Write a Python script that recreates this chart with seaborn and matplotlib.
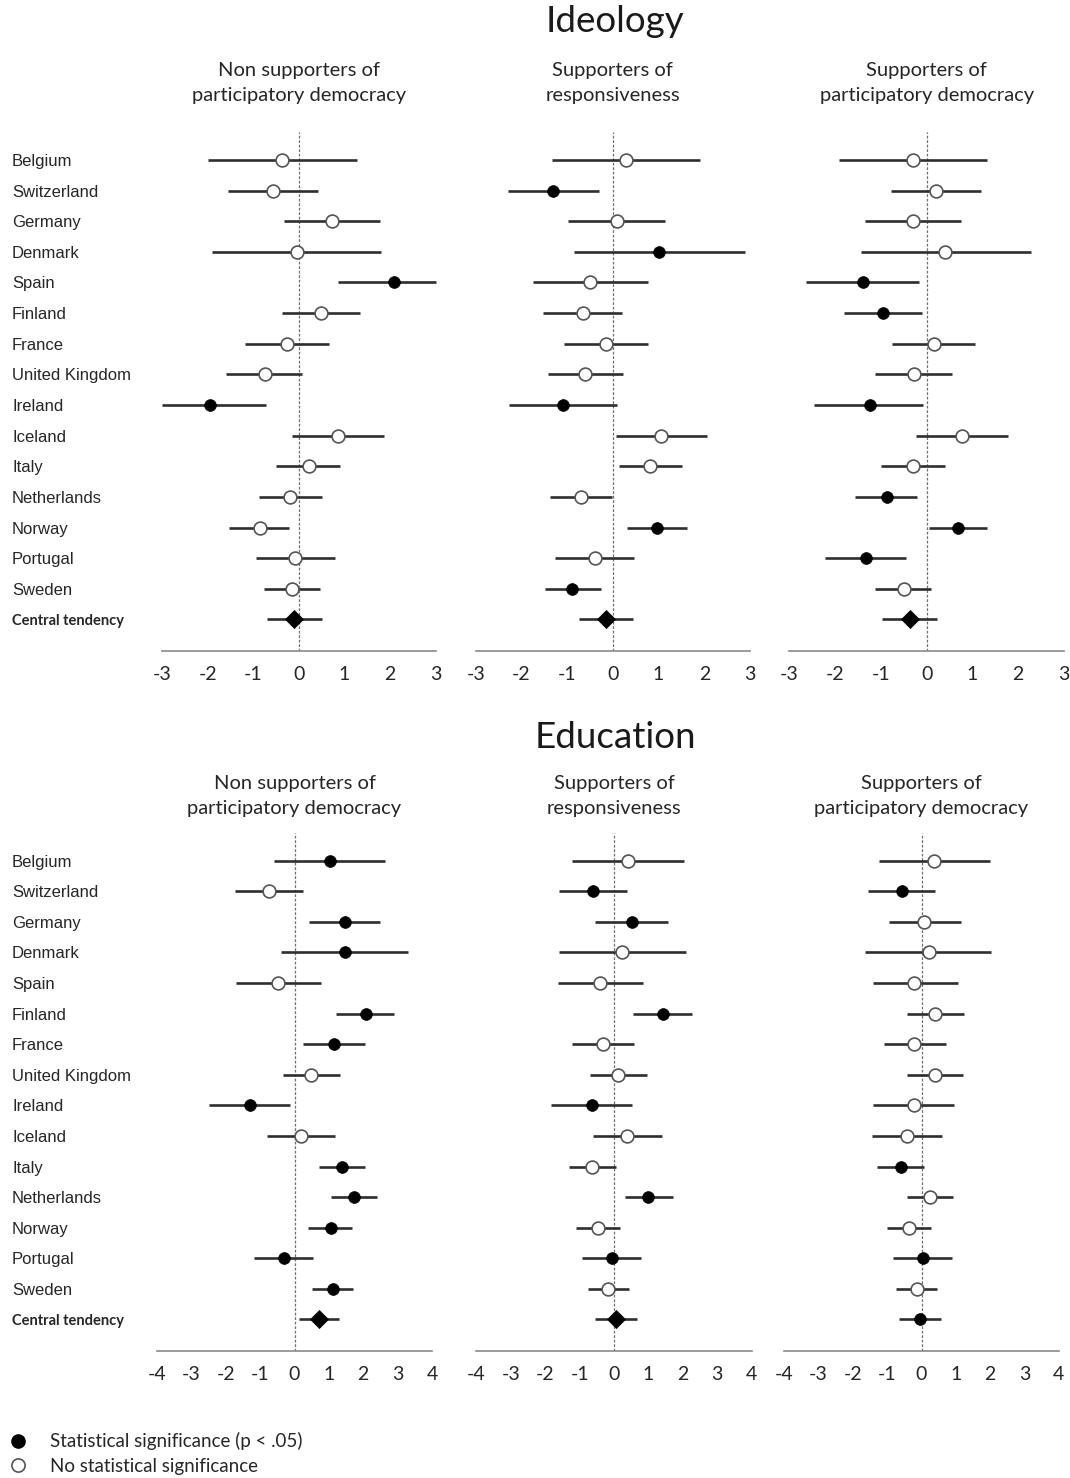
import numpy as np
import pandas as pd
import matplotlib
matplotlib.use("Agg")
import matplotlib.pyplot as plt
import seaborn as sns
from matplotlib.lines import Line2D

# ---------------------------------------------------------------- data
countries = ["Belgium", "Switzerland", "Germany", "Denmark", "Spain", "Finland",
             "France", "United Kingdom", "Ireland", "Iceland", "Italy",
             "Netherlands", "Norway", "Portugal", "Sweden"]
central_label = "Central tendency"

panel_titles = ["Non supporters of\nparticipatory democracy",
                "Supporters of\nresponsiveness",
                "Supporters of\nparticipatory democracy"]

# Ideology: estimate, lower bound, upper bound (15 countries + central tendency)
ideo_non_est = [-0.37, -0.57, 0.74, -0.04, 2.09, 0.48, -0.26, -0.75, -1.94, 0.87, 0.22, -0.19, -0.86, -0.08, -0.15, -0.10]
ideo_non_lo = [-1.99, -1.55, -0.32, -1.90, 0.86, -0.37, -1.17, -1.59, -3.00, -0.15, -0.49, -0.88, -1.52, -0.94, -0.77, -0.69]
ideo_non_hi = [1.27, 0.42, 1.78, 1.81, 3.00, 1.34, 0.66, 0.07, -0.72, 1.87, 0.90, 0.52, -0.21, 0.79, 0.47, 0.52]
ideo_non_sig = [0, 0, 0, 0, 1, 0, 0, 0, 1, 0, 0, 0, 0, 0, 0]

ideo_resp_est = [0.28, -1.32, 0.08, 1.01, -0.50, -0.66, -0.15, -0.61, -1.10, 1.06, 0.82, -0.69, 0.96, -0.39, -0.89, -0.16]
ideo_resp_lo = [-1.34, -2.30, -0.98, -0.85, -1.75, -1.52, -1.06, -1.42, -2.27, 0.06, 0.13, -1.38, 0.32, -1.27, -1.48, -0.75]
ideo_resp_hi = [1.90, -0.31, 1.14, 2.88, 0.76, 0.20, 0.76, 0.22, 0.10, 2.05, 1.52, -0.01, 1.63, 0.47, -0.26, 0.43]
ideo_resp_sig = [0, 1, 0, 1, 0, 0, 0, 0, 1, 0, 0, 0, 1, 0, 1]

ideo_part_est = [-0.29, 0.20, -0.29, 0.41, -1.40, -0.95, 0.15, -0.28, -1.24, 0.77, -0.30, -0.87, 0.69, -1.33, -0.50, -0.37]
ideo_part_lo = [-1.91, -0.78, -1.35, -1.43, -2.64, -1.80, -0.76, -1.12, -2.45, -0.23, -1.00, -1.57, 0.05, -2.21, -1.13, -0.97]
ideo_part_hi = [1.32, 1.19, 0.76, 2.27, -0.16, -0.10, 1.06, 0.55, -0.07, 1.77, 0.40, -0.20, 1.32, -0.46, 0.09, 0.23]
ideo_part_sig = [0, 0, 0, 0, 1, 1, 0, 0, 1, 0, 0, 1, 1, 1, 0]

# Education
edu_non_est = [1.02, -0.74, 1.46, 1.46, -0.47, 2.08, 1.16, 0.49, -1.29, 0.18, 1.38, 1.74, 1.05, -0.32, 1.11, 0.71]
edu_non_lo = [-0.60, -1.74, 0.42, -0.40, -1.71, 1.20, 0.24, -0.34, -2.49, -0.79, 0.70, 1.06, 0.39, -1.19, 0.51, 0.12]
edu_non_hi = [2.63, 0.25, 2.50, 3.30, 0.77, 2.89, 2.05, 1.32, -0.14, 1.19, 2.04, 2.40, 1.68, 0.53, 1.71, 1.28]
edu_non_sig = [1, 0, 1, 1, 0, 1, 1, 0, 1, 0, 1, 1, 1, 1, 1]

edu_resp_est = [0.41, -0.61, 0.51, 0.23, -0.42, 1.41, -0.31, 0.13, -0.64, 0.39, -0.64, 1.00, -0.47, -0.06, -0.16, 0.06]
edu_resp_lo = [-1.21, -1.59, -0.54, -1.59, -1.63, 0.56, -1.23, -0.69, -1.84, -0.61, -1.32, 0.31, -1.10, -0.92, -0.76, -0.54]
edu_resp_hi = [2.03, 0.39, 1.56, 2.08, 0.84, 2.28, 0.57, 0.97, 0.53, 1.39, 0.05, 1.70, 0.17, 0.78, 0.45, 0.66]
edu_resp_sig = [0, 1, 1, 0, 0, 1, 0, 0, 1, 0, 0, 1, 0, 1, 0]

edu_part_est = [0.36, -0.57, 0.07, 0.21, -0.21, 0.40, -0.21, 0.38, -0.23, -0.42, -0.60, 0.26, -0.35, 0.05, -0.13, -0.03]
edu_part_lo = [-1.24, -1.57, -0.96, -1.64, -1.42, -0.43, -1.09, -0.43, -1.41, -1.43, -1.31, -0.43, -1.01, -0.82, -0.73, -0.65]
edu_part_hi = [1.99, 0.38, 1.14, 2.04, 1.05, 1.25, 0.71, 1.20, 0.95, 0.59, 0.08, 0.92, 0.29, 0.89, 0.46, 0.56]
edu_part_sig = [0, 1, 0, 0, 0, 0, 0, 0, 0, 0, 1, 0, 0, 1, 0]

central_markers = ["D", "D", "D", "D", "D", "o"]

# ---------------------------------------------------------------- style
sns.set_theme(style="white")
plt.rcParams["font.family"] = ["Lato", "DejaVu Sans"]
plt.rcParams["axes.unicode_minus"] = False

W, H = 1070, 1478
fig = plt.figure(figsize=(W / 100, H / 100), dpi=100)
fig.patch.set_facecolor("white")

LINE_C = "#2e2e2e"
AXIS_C = "#8a8a8a"
TEXT_C = "#262626"


def add_px_axes(left, right, top, bottom):
    return fig.add_axes([left / W, 1 - bottom / H, (right - left) / W, (bottom - top) / H])


def build_frame(est, lo, hi, sig):
    kind = ["sig" if s else "ns" for s in sig] + ["central"]
    return pd.DataFrame({"row": np.arange(len(est)), "est": est, "lo": lo,
                         "hi": hi, "kind": kind})


def draw_panel(ax, df, lim, cmarker, show_labels, label_pad):
    ax.set_xlim(-lim, lim)
    ax.set_ylim(16.03, -0.9)
    ax.axvline(0, color="#707070", lw=0.9, ls=(0, (2.2, 1.4)), zorder=1)
    ax.hlines(df["row"], df["lo"], df["hi"], color=LINE_C, lw=1.9, zorder=2,
              clip_on=False)
    sns.scatterplot(data=df[df.kind == "ns"], x="est", y="row", ax=ax,
                    color="white", edgecolor="#555555", linewidth=1.2, s=85,
                    marker="o", zorder=3, legend=False, clip_on=False)
    sns.scatterplot(data=df[df.kind == "sig"], x="est", y="row", ax=ax,
                    color="black", edgecolor="black", linewidth=0.5, s=72,
                    marker="o", zorder=3, legend=False, clip_on=False)
    sns.scatterplot(data=df[df.kind == "central"], x="est", y="row", ax=ax,
                    color="black", edgecolor="black", linewidth=0.5,
                    s=85 if cmarker == "D" else 72, marker=cmarker, zorder=3,
                    legend=False, clip_on=False)
    for side in ("top", "left", "right"):
        ax.spines[side].set_visible(False)
    ax.spines["bottom"].set_color(AXIS_C)
    ax.spines["bottom"].set_linewidth(1.2)
    ticks = np.arange(-lim, lim + 1)
    ax.set_xticks(ticks)
    ax.set_xticklabels([str(int(t)) for t in ticks], fontsize=14, color=TEXT_C)
    ax.tick_params(axis="x", direction="out", length=6, width=1.1,
                   color=AXIS_C, pad=5)
    ax.set_xlabel("")
    ax.set_ylabel("")
    ax.set_facecolor("none")
    if show_labels:
        ax.set_yticks(np.arange(16))
        ax.set_yticklabels(countries + [central_label])
        ax.tick_params(axis="y", length=0, pad=label_pad)
        for i, t in enumerate(ax.get_yticklabels()):
            t.set_ha("left")
            t.set_color(TEXT_C)
            if i < 15:
                t.set_family(["Liberation Sans", "DejaVu Sans"])
                t.set_fontsize(12)
            else:
                t.set_family(["Lato", "DejaVu Sans"])
                t.set_fontweight("bold")
                t.set_fontsize(10.5)
    else:
        ax.set_yticks([])


sections = [
    {
        "title": "Ideology", "title_y": 22, "sub_y": 83, "lim": 3,
        "top": 132.4, "bottom": 651,
        "spans": [(162, 435.5), (475.7, 750), (789.3, 1064)],
        "data": [(ideo_non_est, ideo_non_lo, ideo_non_hi, ideo_non_sig),
                 (ideo_resp_est, ideo_resp_lo, ideo_resp_hi, ideo_resp_sig),
                 (ideo_part_est, ideo_part_lo, ideo_part_hi, ideo_part_sig)],
    },
    {
        "title": "Education", "title_y": 738, "sub_y": 796, "lim": 4,
        "top": 833.2, "bottom": 1351,
        "spans": [(157, 432), (476.3, 751.7), (784.3, 1058.7)],
        "data": [(edu_non_est, edu_non_lo, edu_non_hi, edu_non_sig),
                 (edu_resp_est, edu_resp_lo, edu_resp_hi, edu_resp_sig),
                 (edu_part_est, edu_part_lo, edu_part_hi, edu_part_sig)],
    },
]

k = 0
for sec in sections:
    fig.text(615 / W, 1 - sec["title_y"] / H, sec["title"], ha="center",
             va="center", fontsize=26.5, color="#1a1a1a")
    for j, ((left, right), arrays) in enumerate(zip(sec["spans"], sec["data"])):
        ax = add_px_axes(left, right, sec["top"], sec["bottom"])
        df = build_frame(*arrays)
        pad_pt = (left - 12) * 0.72
        draw_panel(ax, df, sec["lim"], central_markers[k], j == 0, pad_pt)
        zero_px = left + (right - left) / 2
        fig.text(zero_px / W, 1 - sec["sub_y"] / H, panel_titles[j],
                 ha="center", va="center", fontsize=14.5, color=TEXT_C,
                 linespacing=1.6)
        k += 1

# significance key
handles = [
    Line2D([], [], ls="", marker="o", ms=9.5, mfc="black", mec="black"),
    Line2D([], [], ls="", marker="o", ms=9.5, mfc="white", mec="#555555", mew=1.2),
]
fig.legend(handles, ["Statistical significance (p < .05)", "No statistical significance"],
           loc="upper left", bbox_to_anchor=(9 / W, 1 - 1432 / H), frameon=False,
           fontsize=13.5, handletextpad=1.2, labelspacing=0.42, handlelength=1.0,
           borderaxespad=0, borderpad=0, labelcolor=TEXT_C)

fig.savefig("out.png", dpi=100, facecolor="white")
